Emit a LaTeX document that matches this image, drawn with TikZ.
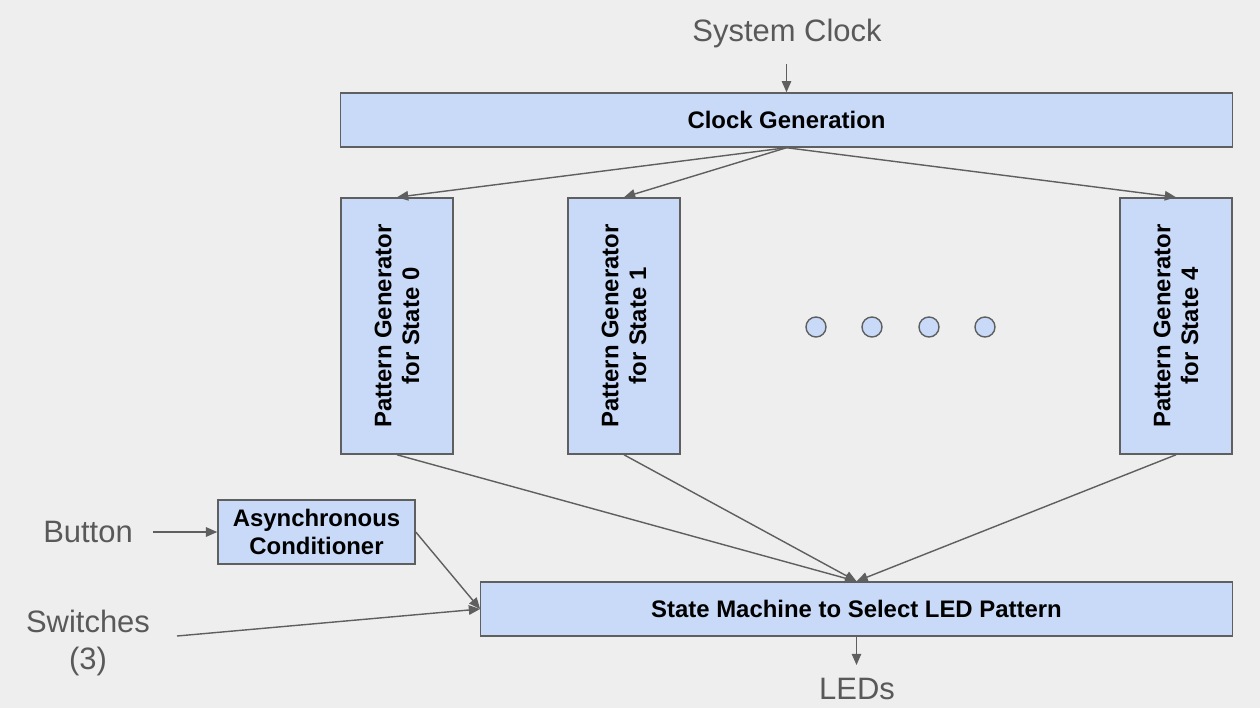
\documentclass[tikz,border=0pt]{standalone}
\usepackage{fontspec}
\setmainfont{Liberation Sans}
\usetikzlibrary{arrows.meta}
\definecolor{bgc}{HTML}{EEEEEE}
\definecolor{boxfill}{HTML}{C9DAF8}
\definecolor{linec}{HTML}{5F5F5F}
\definecolor{txtc}{HTML}{595959}
\tikzset{
  blk/.style={draw=linec, fill=boxfill, line width=0.4pt, inner sep=0pt, align=center,
    font=\fontsize{6.8}{7.9}\selectfont\bfseries, text=black},
  lbl/.style={text=txtc, font=\fontsize{8.8}{10.6}\selectfont, inner sep=0pt, align=center},
  arr/.style={draw=linec, line width=0.4pt, -{Triangle[length=3.2pt,width=2.7pt]}},
  dot/.style={circle, draw=linec, fill=boxfill, line width=0.4pt, minimum size=0.2cm, inner sep=0pt}
}
\begin{document}
\begin{tikzpicture}[x=0.01cm,y=-0.01cm]
\useasboundingbox (0,0) rectangle (1260,708);
\fill[bgc] (0,0) rectangle (1260,708);

\node[lbl] (sys) at (787,33) {System Clock};
\coordinate (sysin) at (786.5,64);
\node[blk, minimum width=8.91cm, minimum height=0.54cm] (clk) at (786.5,120) {Clock Generation};

\node[blk, rotate=90, minimum width=2.56cm, minimum height=1.12cm] (pg0) at (397,326) {Pattern Generator\\for State 0};
\node[blk, rotate=90, minimum width=2.56cm, minimum height=1.12cm] (pg1) at (624,326) {Pattern Generator\\for State 1};
\node[blk, rotate=90, minimum width=2.56cm, minimum height=1.12cm] (pg4) at (1176,326) {Pattern Generator\\for State 4};

\node[dot] (d1) at (816,327) {};
\node[dot] (d2) at (872,327) {};
\node[dot] (d3) at (929,327) {};
\node[dot] (d4) at (985,327) {};

\node[blk, minimum width=1.97cm, minimum height=0.64cm] (async) at (316.5,532) {Asynchronous\\Conditioner};
\node[blk, minimum width=7.51cm, minimum height=0.54cm] (sm) at (856.5,609) {State Machine to Select LED Pattern};

\node[lbl] (btn) at (88,532) {Button};
\coordinate (btnout) at (153,532);
\node[lbl] (sw) at (88,643) {Switches\\(3)};
\coordinate (swout) at (177,636);
\node[lbl] (led) at (857,689) {LEDs};
\coordinate (ledin) at (856.5,665);

\draw[arr] (sysin) -- (clk.north);
\draw[arr] (clk.south) -- (pg0.east);
\draw[arr] (clk.south) -- (pg1.east);
\draw[arr] (clk.south) -- (pg4.east);
\draw[arr] (pg0.west) -- (sm.north);
\draw[arr] (pg1.west) -- (sm.north);
\draw[arr] (pg4.west) -- (sm.north);
\draw[arr] (btnout) -- (async.west);
\draw[arr] (async.east) -- (sm.west);
\draw[arr] (swout) -- (sm.west);
\draw[arr] (sm.south) -- (ledin);
\end{tikzpicture}
\end{document}
